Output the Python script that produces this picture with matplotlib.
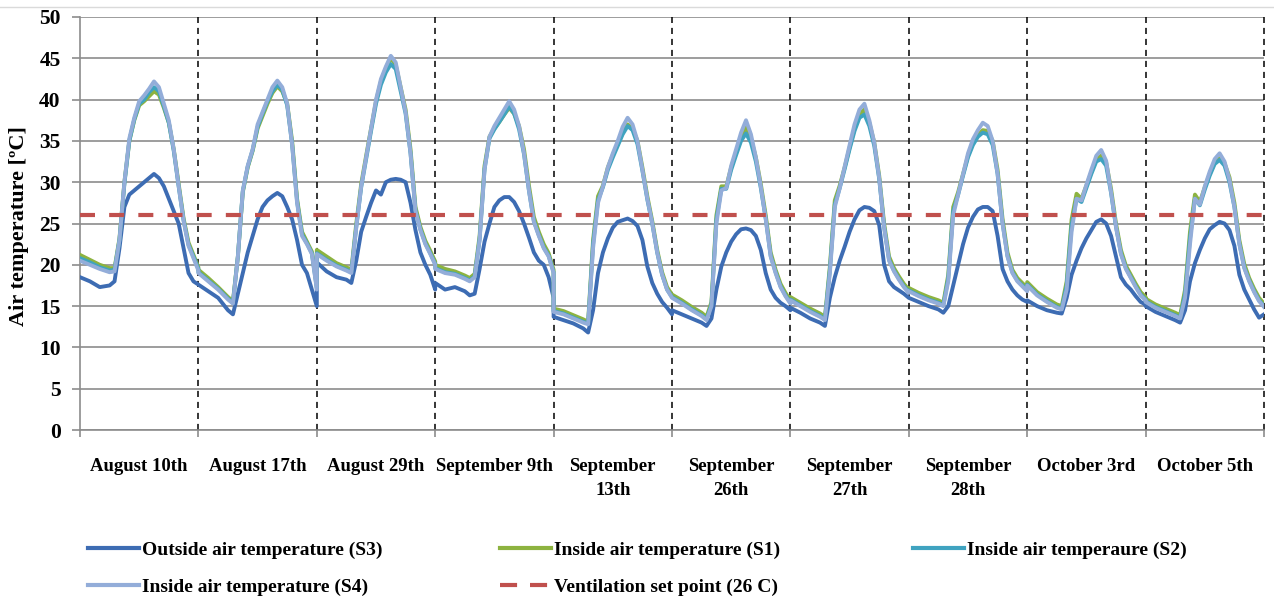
import matplotlib
matplotlib.use("Agg")
import matplotlib.pyplot as plt
from matplotlib.lines import Line2D

# ---------------- data ----------------
day_labels = ["August 10th", "August 17th", "August 29th", "September 9th",
              "September\n13th", "September\n26th", "September\n27th",
              "September\n28th", "October 3rd", "October 5th"]

# hour-of-day sampling points used for every day panel
hours = [0, 2, 4, 6, 7, 8, 9, 10, 11, 12, 13, 14, 15, 16, 17, 18, 19, 20, 21, 22, 23, 24]

# Outside air temperature (S3), one list per day
outside_s3 = [
    [18.5, 18.0, 17.3, 17.5, 18.0, 22.0, 27.0, 28.5, 29.0, 29.5, 30.0, 30.5, 31.0, 30.5, 29.5, 28.0, 26.5, 25.0, 22.0, 19.0, 18.0, 17.6],
    [17.6, 16.8, 16.0, 14.5, 14.0, 16.5, 19.0, 21.5, 23.5, 25.5, 27.0, 27.8, 28.3, 28.7, 28.3, 27.0, 25.5, 23.0, 20.0, 19.0, 17.0, 15.0],
    [20.3, 19.2, 18.5, 18.2, 17.8, 20.5, 24.0, 25.8, 27.5, 29.0, 28.5, 30.0, 30.3, 30.4, 30.3, 30.0, 27.5, 24.2, 21.5, 20.0, 18.8, 17.0],
    [17.8, 17.0, 17.3, 16.8, 16.3, 16.5, 19.5, 22.8, 25.0, 27.0, 27.8, 28.2, 28.2, 27.6, 26.5, 25.0, 23.3, 21.5, 20.5, 20.0, 18.5, 16.0],
    [13.7, 13.3, 12.9, 12.3, 11.8, 14.5, 19.0, 21.5, 23.2, 24.5, 25.2, 25.4, 25.6, 25.3, 24.7, 23.0, 19.8, 17.8, 16.5, 15.5, 14.8, 14.0],
    [14.5, 14.0, 13.5, 13.0, 12.6, 13.5, 17.0, 19.8, 21.5, 22.8, 23.7, 24.3, 24.4, 24.2, 23.5, 21.8, 19.0, 17.0, 16.0, 15.4, 15.0, 14.5],
    [14.8, 14.2, 13.5, 13.0, 12.6, 16.0, 18.5, 20.5, 22.2, 24.0, 25.5, 26.6, 27.0, 26.9, 26.5, 24.8, 20.0, 18.0, 17.3, 16.9, 16.5, 16.0],
    [16.0, 15.5, 15.0, 14.6, 14.2, 15.0, 17.5, 20.0, 22.5, 24.5, 25.8, 26.7, 27.0, 27.0, 26.5, 23.5, 19.5, 18.0, 17.0, 16.3, 15.8, 15.5],
    [15.7, 15.0, 14.5, 14.2, 14.1, 16.0, 18.8, 20.5, 22.0, 23.2, 24.2, 25.2, 25.5, 25.0, 23.5, 21.0, 18.5, 17.6, 17.0, 16.2, 15.5, 15.2],
    [15.0, 14.3, 13.8, 13.3, 13.0, 14.5, 18.0, 20.2, 21.8, 23.2, 24.3, 24.8, 25.2, 25.0, 24.2, 22.3, 18.8, 17.0, 15.8, 14.6, 13.6, 14.0],
]

# Inside air temperature (S1)
inside_s1 = [
    [21.2, 20.6, 20.0, 19.6, 19.6, 23.2, 30.0, 35.0, 37.5, 39.3, 39.8, 40.4, 41.0, 40.6, 39.0, 37.2, 34.0, 29.8, 25.6, 22.7, 21.2, 19.7],
    [19.4, 18.4, 17.3, 16.1, 15.6, 21.0, 28.8, 31.8, 33.8, 36.5, 38.0, 39.5, 40.8, 41.6, 41.0, 39.5, 35.0, 28.0, 24.0, 22.8, 21.6, 17.5],
    [21.8, 21.0, 20.2, 19.7, 19.4, 25.0, 29.8, 33.2, 36.5, 39.8, 42.2, 43.8, 45.0, 44.2, 41.5, 38.8, 34.0, 27.0, 24.6, 22.9, 21.7, 20.4],
    [20.0, 19.5, 19.2, 18.7, 18.4, 18.9, 23.5, 32.0, 35.5, 36.5, 37.3, 38.2, 39.0, 38.3, 36.8, 34.0, 29.6, 25.8, 24.0, 22.5, 21.4, 19.4],
    [14.7, 14.4, 13.9, 13.4, 13.1, 23.0, 28.3, 29.6, 31.8, 33.3, 34.6, 36.0, 37.0, 36.5, 35.0, 31.8, 28.3, 25.3, 21.8, 19.1, 17.3, 16.4],
    [16.4, 15.7, 14.9, 14.2, 13.7, 15.5, 26.0, 29.5, 29.5, 31.8, 33.6, 35.3, 36.6, 35.3, 33.0, 29.8, 26.0, 21.5, 19.4, 17.7, 16.6, 15.7],
    [16.1, 15.4, 14.7, 14.1, 13.7, 19.8, 27.8, 29.6, 31.8, 34.2, 36.5, 38.2, 38.8, 37.2, 34.8, 30.8, 25.0, 21.0, 19.6, 18.6, 17.7, 17.0],
    [17.2, 16.6, 16.1, 15.7, 15.4, 18.8, 27.0, 28.8, 31.0, 33.2, 34.8, 35.7, 36.3, 36.2, 35.0, 31.5, 25.6, 21.5, 19.4, 18.4, 17.8, 17.2],
    [17.9, 16.7, 15.9, 15.2, 15.0, 18.0, 25.5, 28.6, 28.0, 29.6, 31.2, 32.8, 33.2, 32.4, 29.2, 25.0, 21.8, 19.9, 18.8, 17.7, 16.7, 16.1],
    [15.9, 15.2, 14.7, 14.2, 13.9, 17.0, 24.0, 28.5, 27.6, 29.4, 31.0, 32.4, 32.9, 32.3, 30.6, 27.5, 23.0, 20.1, 18.4, 17.1, 16.0, 15.3],
]

# Inside air temperature (S2)
inside_s2 = [
    [20.8, 20.3, 19.7, 19.3, 19.4, 23.0, 29.8, 35.0, 37.6, 39.5, 40.0, 40.9, 41.5, 41.0, 39.2, 37.2, 33.8, 29.5, 25.4, 22.4, 21.0, 19.5],
    [19.1, 18.1, 17.1, 15.9, 15.4, 21.0, 28.9, 31.9, 33.9, 36.7, 38.3, 39.8, 41.0, 41.8, 41.2, 39.3, 34.6, 27.7, 23.7, 22.6, 21.4, 17.2],
    [21.4, 20.6, 19.9, 19.4, 19.1, 24.6, 29.4, 32.8, 36.2, 39.5, 41.8, 43.3, 44.3, 43.7, 41.0, 38.3, 33.5, 26.6, 24.3, 22.6, 21.4, 20.1],
    [19.6, 19.1, 18.9, 18.4, 18.1, 18.6, 23.1, 31.6, 35.3, 36.4, 37.3, 38.2, 39.2, 38.3, 36.4, 33.4, 29.0, 25.3, 23.6, 22.1, 21.1, 19.1],
    [14.4, 14.1, 13.6, 13.1, 12.9, 22.5, 27.8, 29.4, 31.5, 33.0, 34.4, 35.8, 36.8, 36.3, 34.6, 31.4, 27.9, 25.0, 21.5, 18.8, 17.0, 16.1],
    [16.1, 15.4, 14.6, 13.9, 13.4, 15.2, 25.5, 29.2, 29.2, 31.5, 33.3, 35.0, 35.9, 34.8, 32.5, 29.3, 25.6, 21.1, 19.1, 17.4, 16.3, 15.4],
    [15.8, 15.1, 14.4, 13.8, 13.4, 19.4, 27.3, 29.3, 31.6, 34.0, 36.2, 37.8, 38.2, 36.8, 34.4, 30.4, 24.6, 20.6, 19.3, 18.3, 17.4, 16.7],
    [16.9, 16.3, 15.8, 15.4, 15.1, 18.4, 26.5, 28.5, 30.8, 33.0, 34.5, 35.5, 36.0, 35.8, 34.5, 31.0, 25.1, 21.1, 19.1, 18.1, 17.5, 16.9],
    [17.6, 16.4, 15.6, 14.9, 14.7, 17.5, 24.8, 28.0, 27.6, 29.3, 31.0, 32.5, 32.8, 32.0, 28.7, 24.6, 21.4, 19.6, 18.5, 17.4, 16.4, 15.8],
    [15.6, 14.9, 14.4, 13.9, 13.6, 16.5, 23.2, 28.0, 27.2, 29.1, 30.8, 32.2, 32.7, 32.0, 30.0, 27.0, 22.6, 19.7, 18.1, 16.8, 15.7, 15.0],
]

# Inside air temperature (S4)
inside_s4 = [
    [20.5, 20.0, 19.5, 19.1, 19.2, 23.0, 30.0, 35.3, 37.8, 39.8, 40.5, 41.3, 42.2, 41.5, 39.5, 37.5, 34.0, 29.5, 25.3, 22.3, 20.8, 19.3],
    [19.0, 18.0, 17.0, 15.8, 15.3, 21.0, 29.0, 32.0, 34.0, 37.0, 38.5, 40.0, 41.5, 42.3, 41.5, 39.5, 34.5, 27.5, 23.5, 22.5, 21.3, 17.0],
    [21.3, 20.5, 19.8, 19.3, 19.0, 24.5, 29.5, 33.0, 36.5, 40.0, 42.5, 44.0, 45.3, 44.5, 41.5, 38.5, 33.5, 26.5, 24.2, 22.5, 21.3, 20.0],
    [19.5, 19.0, 18.8, 18.3, 18.0, 18.5, 23.0, 31.5, 35.5, 36.8, 37.8, 38.8, 39.8, 38.8, 36.8, 33.5, 29.0, 25.2, 23.5, 22.0, 21.0, 19.0],
    [14.3, 14.0, 13.5, 13.0, 12.8, 22.0, 27.5, 29.5, 31.8, 33.5, 35.0, 36.7, 37.8, 37.0, 35.0, 31.5, 28.0, 25.0, 21.5, 18.8, 17.0, 16.0],
    [16.0, 15.3, 14.5, 13.8, 13.3, 15.0, 25.0, 29.0, 29.3, 32.0, 34.0, 36.0, 37.5, 35.8, 33.0, 29.5, 25.5, 21.0, 19.0, 17.3, 16.2, 15.3],
    [15.7, 15.0, 14.3, 13.7, 13.3, 19.0, 27.0, 29.3, 31.9, 34.5, 37.0, 38.8, 39.5, 37.5, 34.8, 30.5, 24.5, 20.5, 19.2, 18.2, 17.3, 16.6],
    [16.8, 16.2, 15.7, 15.3, 15.0, 18.0, 26.0, 28.5, 31.0, 33.5, 35.2, 36.3, 37.2, 36.8, 35.0, 31.0, 25.0, 21.0, 19.0, 18.0, 17.4, 16.8],
    [17.5, 16.3, 15.5, 14.8, 14.6, 17.0, 24.0, 28.0, 27.8, 29.7, 31.5, 33.2, 33.9, 32.6, 28.8, 24.6, 21.3, 19.5, 18.4, 17.3, 16.3, 15.7],
    [15.5, 14.8, 14.3, 13.8, 13.5, 16.0, 22.5, 28.0, 27.3, 29.5, 31.3, 32.8, 33.5, 32.5, 30.3, 27.0, 22.5, 19.6, 18.0, 16.7, 15.6, 14.9],
]

set_point = 26.0
y_ticks = [0, 5, 10, 15, 20, 25, 30, 35, 40, 45, 50]

series_labels = ["Outside air temperature (S3)", "Inside air temperature (S1)",
                 "Inside air temperaure (S2)", "Inside air temperature (S4)",
                 "Ventilation set point (26 C)"]

# ---------------- style ----------------
C_S3 = "#3D6CB3"
C_S1 = "#8DB340"
C_S2 = "#3FA3C0"
C_S4 = "#93ADD9"
C_SP = "#C0504D"
GRID = "#8C8C8C"
SERIF = "Liberation Serif"

W, H = 1274, 600
fig = plt.figure(figsize=(W / 100, H / 100), dpi=100)
ax_l, ax_r, ax_t, ax_b = 80, 1264, 17, 430
ax = fig.add_axes([ax_l / W, 1 - ax_b / H, (ax_r - ax_l) / W, (ax_b - ax_t) / H])

n_days = len(day_labels)
day_len = hours[-1]


def flatten(per_day):
    xs, ys = [], []
    for d, vals in enumerate(per_day):
        xs += [d * day_len + h for h in hours]
        ys += list(vals)
    return xs, ys


lw = 2.8
for data, col, z in [(outside_s3, C_S3, 3), (inside_s1, C_S1, 4),
                     (inside_s2, C_S2, 5), (inside_s4, C_S4, 6)]:
    xs, ys = flatten(data)
    ax.plot(xs, ys, color=col, lw=lw, zorder=z, solid_joinstyle="round")

ax.axhline(set_point, color=C_SP, lw=3.0, dashes=(3.6, 3.4), zorder=7)

for d in range(1, n_days + 1):
    ax.axvline(d * day_len, color="black", lw=1.1, linestyle=(0, (4, 3.2)),
               zorder=2, clip_on=False)

ax.set_xlim(0, n_days * day_len)
ax.set_ylim(0, 50)
ax.set_yticks(y_ticks)
ax.yaxis.grid(True, color=GRID, lw=1.2, zorder=1)
ax.set_axisbelow(True)

for s in ["top", "right"]:
    ax.spines[s].set_visible(False)
ax.spines["left"].set_color(GRID)
ax.spines["left"].set_linewidth(1.2)
ax.spines["bottom"].set_color(GRID)
ax.spines["bottom"].set_linewidth(1.2)

ax.set_xticks([d * day_len for d in range(n_days + 1)])
ax.set_xticklabels([])
ax.set_xticks([d * day_len + day_len / 2 for d in range(n_days)], minor=True)
ax.set_xticklabels(day_labels, minor=True, fontsize=13.5,
                   fontfamily=SERIF, fontweight="bold", va="top")
for t in ax.get_xticklabels(minor=True):
    t.set_linespacing(1.55)
ax.tick_params(axis="x", which="major", direction="out", length=5,
               color=GRID, width=1.2)
ax.tick_params(axis="x", which="minor", length=0, pad=20)

ax.set_yticklabels([str(v) for v in y_ticks], fontsize=15.5,
                   fontfamily=SERIF, fontweight="bold")
ax.tick_params(axis="y", direction="out", length=6, color=GRID, width=1.2, pad=8)

fig.text(19 / W, 1 - 226 / H, "Air temperature [ºC]", rotation=90,
         ha="center", va="center", fontsize=16, fontfamily=SERIF,
         fontweight="bold")

# faint frame line at the very top
fig.add_artist(Line2D([0, 1], [1 - 7 / H, 1 - 7 / H], color="#DADADA", lw=1.0))

# legend: three columns placed individually (row-major reading order)
h_s3 = Line2D([], [], color=C_S3, lw=3.0)
h_s1 = Line2D([], [], color=C_S1, lw=3.0)
h_s2 = Line2D([], [], color=C_S2, lw=3.0)
h_s4 = Line2D([], [], color=C_S4, lw=3.0)
h_sp = Line2D([], [], color=C_SP, lw=3.0, dashes=(4.1, 3.1))
columns = [
    (88, [h_s3, h_s4], [series_labels[0], series_labels[3]]),
    (500, [h_s1, h_sp], [series_labels[1], series_labels[4]]),
    (913, [h_s2], [series_labels[2]]),
]
leg_prop = {"family": SERIF, "weight": "bold", "size": 14}
for x0, hs, ls in columns:
    leg = fig.legend(hs, ls, loc="upper left",
                     bbox_to_anchor=(x0 / W, 1 - 541 / H), frameon=False,
                     prop=leg_prop, handlelength=2.6, handletextpad=0.2,
                     labelspacing=1.0, borderpad=0, borderaxespad=0)

fig.savefig("out.png", dpi=100)
